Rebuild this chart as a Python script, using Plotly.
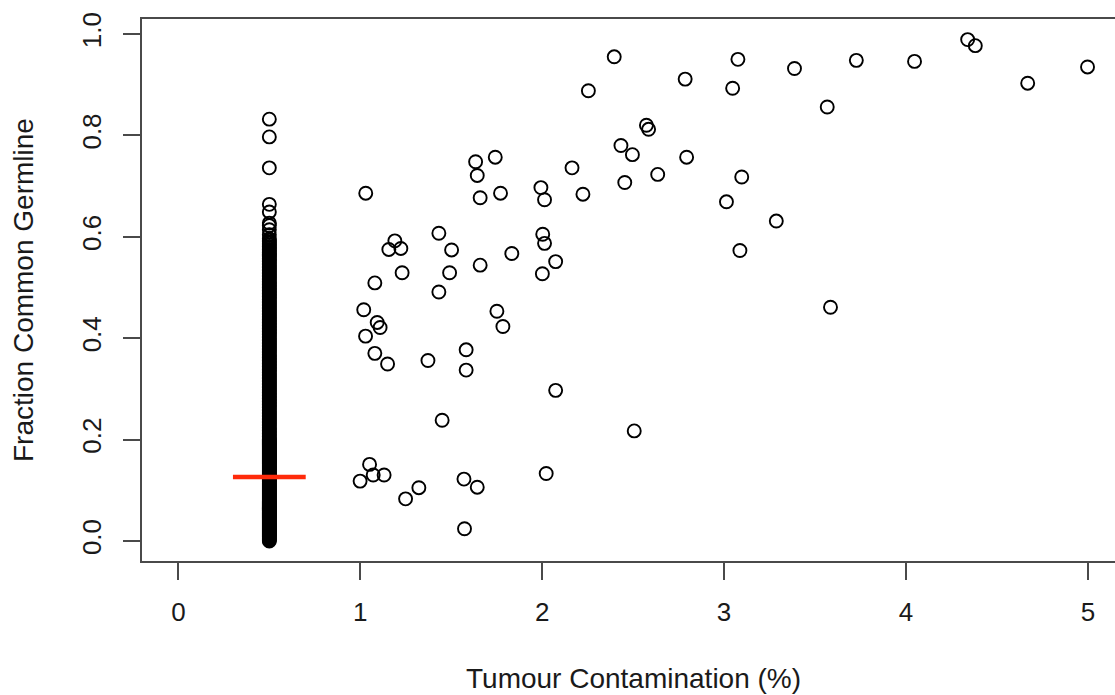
import plotly.graph_objects as go

# ---- data ----
# Column of samples with no detected contamination (plotted at x = 0.5)
column_x_value = 0.5
column_fraction = [
    0.000, 0.002, 0.004, 0.006, 0.008, 0.010, 0.012, 0.014, 0.016, 0.018,
    0.020, 0.022, 0.024, 0.026, 0.028, 0.030, 0.032, 0.034, 0.036, 0.038,
    0.040, 0.042, 0.044, 0.046, 0.048, 0.050, 0.052, 0.054, 0.056, 0.058,
    0.060, 0.062, 0.064, 0.066, 0.068, 0.070, 0.072, 0.074, 0.076, 0.078,
    0.080, 0.082, 0.084, 0.086, 0.088, 0.090, 0.092, 0.094, 0.096, 0.098,
    0.100, 0.102, 0.104, 0.106, 0.108, 0.110, 0.112, 0.114, 0.116, 0.118,
    0.120, 0.122, 0.124, 0.126, 0.128, 0.130, 0.132, 0.134, 0.136, 0.138,
    0.140, 0.142, 0.144, 0.146, 0.148, 0.150, 0.152, 0.154, 0.156, 0.158,
    0.160, 0.162, 0.164, 0.166, 0.168, 0.170, 0.172, 0.174, 0.176, 0.178,
    0.180, 0.182, 0.184, 0.186, 0.188, 0.190, 0.192, 0.194, 0.196, 0.198,
    0.200, 0.203, 0.206, 0.209, 0.212, 0.215, 0.218, 0.221, 0.224, 0.227,
    0.230, 0.233, 0.236, 0.239, 0.242, 0.245, 0.248, 0.251, 0.254, 0.257,
    0.260, 0.263, 0.266, 0.269, 0.272, 0.275, 0.278, 0.281, 0.284, 0.287,
    0.290, 0.293, 0.296, 0.299, 0.302, 0.305, 0.308, 0.311, 0.314, 0.317,
    0.320, 0.323, 0.326, 0.329, 0.332, 0.335, 0.338, 0.341, 0.344, 0.347,
    0.350, 0.353, 0.356, 0.359, 0.362, 0.365, 0.368, 0.371, 0.374, 0.377,
    0.380, 0.383, 0.386, 0.389, 0.392, 0.395, 0.398, 0.401, 0.404, 0.407,
    0.410, 0.413, 0.416, 0.419, 0.422, 0.425, 0.428, 0.431, 0.434, 0.437,
    0.440, 0.443, 0.446, 0.449, 0.452, 0.455, 0.458, 0.461, 0.464, 0.467,
    0.470, 0.473, 0.476, 0.479, 0.482, 0.485, 0.488, 0.491, 0.494, 0.497,
    0.500, 0.503, 0.506, 0.509, 0.512, 0.515, 0.518, 0.521, 0.524, 0.527,
    0.530, 0.533, 0.536, 0.539, 0.542, 0.545, 0.548, 0.551, 0.554, 0.557,
    0.560, 0.563, 0.566, 0.569, 0.572, 0.575, 0.578, 0.581, 0.584, 0.587,
    0.590, 0.593, 0.596, 0.604, 0.614, 0.622, 0.627, 0.649, 0.664, 0.736,
    0.797, 0.832,
]

# Samples with detected contamination
contamination = [
    1.030, 1.634, 1.742, 1.643, 1.659, 1.771, 1.432, 1.190, 1.157, 1.223,
    1.502, 1.833, 1.659, 1.230, 1.491, 1.080, 1.432, 1.019, 1.751, 1.093,
    1.109, 1.784, 1.029, 1.080, 1.150, 1.372, 1.582, 1.582, 1.450, 1.051,
    1.071, 1.131, 0.999, 1.322, 1.249, 1.570, 1.643, 1.573, 2.396, 2.254,
    3.076, 2.786, 3.047, 3.387, 3.727, 4.047, 4.339, 4.381, 4.669, 4.998,
    3.567, 2.573, 2.585, 2.433, 2.496, 2.164, 2.794, 2.635, 2.454, 3.097,
    1.993, 2.013, 2.224, 3.013, 3.287, 2.003, 2.013, 2.074, 2.001, 3.087,
    3.585, 2.074, 2.506, 2.022,
]
fraction = [
    0.686, 0.748, 0.757, 0.721, 0.677, 0.686, 0.607, 0.592, 0.575, 0.577,
    0.574, 0.567, 0.544, 0.529, 0.529, 0.509, 0.491, 0.456, 0.453, 0.431,
    0.421, 0.423, 0.404, 0.370, 0.349, 0.356, 0.377, 0.337, 0.238, 0.151,
    0.130, 0.130, 0.118, 0.105, 0.083, 0.122, 0.106, 0.024, 0.955, 0.888,
    0.950, 0.911, 0.893, 0.932, 0.948, 0.946, 0.989, 0.977, 0.903, 0.935,
    0.856, 0.820, 0.812, 0.780, 0.762, 0.736, 0.757, 0.723, 0.707, 0.718,
    0.697, 0.673, 0.684, 0.669, 0.631, 0.605, 0.587, 0.551, 0.527, 0.573,
    0.461, 0.297, 0.217, 0.133,
]

# Median of the uncontaminated column, drawn as a short red bar
median_fraction = 0.126
median_bar_x = [0.3, 0.7]

x_ticks = [0, 1, 2, 3, 4, 5]
x_tick_labels = ["0", "1", "2", "3", "4", "5"]
y_ticks = [0.0, 0.2, 0.4, 0.6, 0.8, 1.0]
y_tick_labels = ["0.0", "0.2", "0.4", "0.6", "0.8", "1.0"]

x_title = "Tumour Contamination (%)"
y_title = "Fraction Common Germline"

# ---- figure ----
FONT = "Liberation Sans, Arial, Helvetica, sans-serif"
INK = "#1a1a1a"
MARK = "#000000"
AXIS = "#4a4a4a"

marker_style = dict(symbol="circle-open", size=13, color=MARK,
                    line=dict(width=1.9, color=MARK))

fig = go.Figure()
fig.add_trace(go.Scatter(
    x=[column_x_value] * len(column_fraction), y=column_fraction,
    mode="markers", marker=marker_style, showlegend=False, hoverinfo="skip"))
fig.add_trace(go.Scatter(
    x=contamination, y=fraction,
    mode="markers", marker=marker_style, showlegend=False))
fig.add_trace(go.Scatter(
    x=median_bar_x, y=[median_fraction] * len(median_bar_x),
    mode="lines", line=dict(color="#ff2a0a", width=4.5), showlegend=False))

fig.update_layout(
    width=1115, height=695,
    margin=dict(l=142, r=0, t=19, b=134, pad=0),
    paper_bgcolor="white", plot_bgcolor="white",
    font=dict(family=FONT, size=26, color=INK),
    showlegend=False,
    xaxis=dict(
        range=[-0.2, 5.149], tickvals=x_ticks, ticktext=x_tick_labels,
        ticks="outside", ticklen=17, tickwidth=2, tickcolor=AXIS,
        showline=True, linecolor=AXIS, linewidth=2, mirror=True,
        showgrid=False, zeroline=False, ticklabelstandoff=10,
        tickfont=dict(family=FONT, size=26, color=INK),
    ),
    yaxis=dict(
        range=[-0.0396, 1.0296], tickvals=y_ticks, ticktext=y_tick_labels,
        ticks="outside", ticklen=17, tickwidth=2, tickcolor=AXIS,
        showline=True, linecolor=AXIS, linewidth=2, mirror=False,
        showgrid=False, zeroline=False, tickangle=-90, ticklabelstandoff=12,
        tickfont=dict(family=FONT, size=26, color=INK),
    ),
    annotations=[
        dict(text=x_title, xref="x", yref="paper", x=2.5, y=-0.216,
             xanchor="center", yanchor="middle", showarrow=False,
             font=dict(family=FONT, size=28, color=INK)),
        dict(text=y_title, xref="paper", yref="y", x=-0.1223, y=0.495,
             xanchor="center", yanchor="middle", textangle=-90, showarrow=False,
             font=dict(family=FONT, size=28, color=INK)),
    ],
)

fig.write_html("out.html")
